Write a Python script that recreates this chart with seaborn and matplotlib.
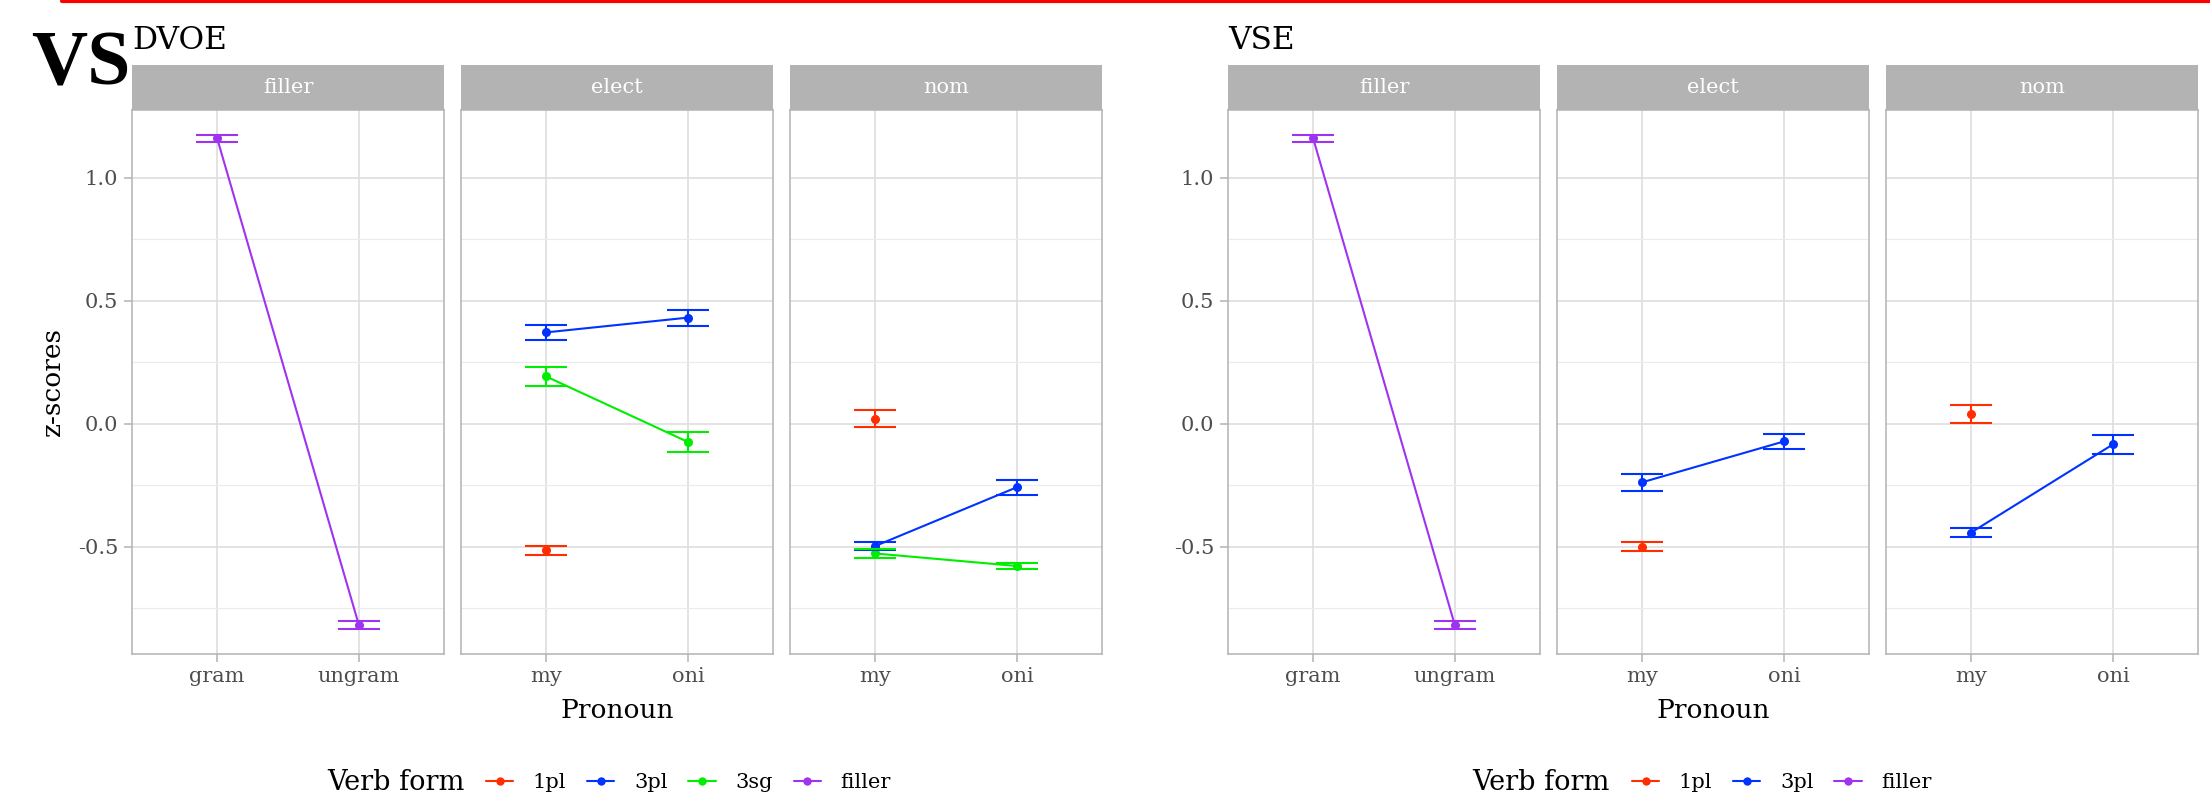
import numpy as np
import pandas as pd
import matplotlib
matplotlib.use('Agg')
import matplotlib.pyplot as plt
import seaborn as sns
from matplotlib.lines import Line2D
from matplotlib.patches import Rectangle

sns.set_theme(style='white')
plt.rcParams['font.family'] = ['DejaVu Serif']
plt.rcParams['text.color'] = 'black'

conditions = ['filler', 'elect', 'nom']
pronoun_levels = {'filler': ['gram', 'ungram'], 'elect': ['my', 'oni'], 'nom': ['my', 'oni']}
verb_forms = ['1pl', '3pl', '3sg', 'filler']
palette = {'1pl': '#FF2D00', '3pl': '#0033FF', '3sg': '#00EE00', 'filler': '#A033F0'}

# DVOE
dvoe_condition = ['filler', 'filler', 'elect', 'elect', 'elect', 'elect', 'elect', 'nom', 'nom', 'nom', 'nom', 'nom']
dvoe_pronoun = ['gram', 'ungram', 'my', 'my', 'oni', 'my', 'oni', 'my', 'my', 'oni', 'my', 'oni']
dvoe_verb = ['filler', 'filler', '1pl', '3pl', '3pl', '3sg', '3sg', '1pl', '3pl', '3pl', '3sg', '3sg']
dvoe_mean = [1.160, -0.818, -0.515, 0.371, 0.431, 0.192, -0.074, 0.021, -0.497, -0.258, -0.527, -0.578]
dvoe_se = [0.014, 0.015, 0.020, 0.029, 0.032, 0.038, 0.042, 0.034, 0.017, 0.030, 0.019, 0.014]

# VSE
vse_condition = ['filler', 'filler', 'elect', 'elect', 'elect', 'nom', 'nom', 'nom']
vse_pronoun = ['gram', 'ungram', 'my', 'my', 'oni', 'my', 'my', 'oni']
vse_verb = ['filler', 'filler', '1pl', '3pl', '3pl', '1pl', '3pl', '3pl']
vse_mean = [1.160, -0.819, -0.499, -0.238, -0.072, 0.041, -0.442, -0.084]
vse_se = [0.014, 0.016, 0.018, 0.034, 0.031, 0.037, 0.018, 0.040]

dvoe = pd.DataFrame({'cond': dvoe_condition, 'pronoun': dvoe_pronoun, 'verb': dvoe_verb,
                     'mean': dvoe_mean, 'se': dvoe_se})
vse = pd.DataFrame({'cond': vse_condition, 'pronoun': vse_pronoun, 'verb': vse_verb,
                    'mean': vse_mean, 'se': vse_se})

lo = min((dvoe['mean'] - dvoe['se']).min(), (vse['mean'] - vse['se']).min())
hi = max((dvoe['mean'] + dvoe['se']).max(), (vse['mean'] + vse['se']).max())
pad = (hi - lo) * 0.05
ylim = (lo - pad, hi + pad)

W, H = 2210, 802
fig = plt.figure(figsize=(W / 100, H / 100), dpi=100)
fig.patch.set_facecolor('white')

grid_col = '#DEDEDE'
border_col = '#B3B3B3'
tick_col = '#4D4D4D'
panel_top, panel_bot, panel_w, strip_h = 110, 654, 312, 45


def draw_group(df, lefts, name, show_ylab, legend_x, key_x, verbs):
    for i, cond in enumerate(conditions):
        ax = fig.add_axes([lefts[i] / W, 1 - panel_bot / H, panel_w / W, (panel_bot - panel_top) / H])
        sub = df[df['cond'] == cond].copy()
        sub['x'] = sub['pronoun'].map({p: k for k, p in enumerate(pronoun_levels[cond])})
        sns.lineplot(data=sub, x='x', y='mean', hue='verb', palette=palette, marker='o',
                     markersize=6.5, markeredgewidth=0, linewidth=1.5, estimator=None,
                     legend=False, ax=ax, zorder=3)
        cols = sub['verb'].map(palette)
        ax.vlines(sub['x'], sub['mean'] - sub['se'], sub['mean'] + sub['se'], colors=cols, lw=1.5, zorder=3)
        ax.hlines(sub['mean'] - sub['se'], sub['x'] - 0.15, sub['x'] + 0.15, colors=cols, lw=1.5, zorder=3)
        ax.hlines(sub['mean'] + sub['se'], sub['x'] - 0.15, sub['x'] + 0.15, colors=cols, lw=1.5, zorder=3)

        ax.set_xlim(-0.6, 1.6)
        ax.set_ylim(*ylim)
        ax.set_xticks([0, 1])
        ax.set_xticklabels(pronoun_levels[cond])
        ax.set_yticks([-0.5, 0.0, 0.5, 1.0])
        ax.set_yticks([-0.75, -0.25, 0.25, 0.75], minor=True)
        ax.set_xlabel('')
        ax.set_ylabel('')
        ax.grid(True, which='major', color=grid_col, lw=1.2, zorder=0)
        ax.grid(True, which='minor', axis='y', color='#EBEBEB', lw=0.8, zorder=0)
        ax.set_axisbelow(True)
        for s in ax.spines.values():
            s.set_color(border_col)
            s.set_linewidth(1.1)
        ax.tick_params(axis='x', which='major', length=6, width=1.1, color=border_col,
                       labelcolor=tick_col, labelsize=15, pad=3, bottom=True)
        ax.tick_params(axis='y', which='minor', length=0)
        if i == 0:
            ax.set_yticklabels(['-0.5', '0.0', '0.5', '1.0'])
            ax.tick_params(axis='y', which='major', length=6, width=1.1, color=border_col,
                           labelcolor=tick_col, labelsize=15, pad=4, left=True)
        else:
            ax.tick_params(axis='y', which='major', left=False, labelleft=False)

        ax.add_patch(Rectangle((0, 1), 1, strip_h / (panel_bot - panel_top), transform=ax.transAxes,
                               facecolor='#B3B3B3', edgecolor='none', clip_on=False))
        ax.text(0.5, 1 + strip_h / 2 / (panel_bot - panel_top), cond, transform=ax.transAxes,
                ha='center', va='center', color='white', fontsize=15)

    fig.text(lefts[0] / W, 1 - 49 / H, name, fontsize=22.5, ha='left', va='baseline', color='black')
    mid = (lefts[1] + panel_w / 2) / W
    fig.text(mid, 1 - 710 / H, 'Pronoun', fontsize=19, ha='center', va='center', color='black')
    if show_ylab:
        fig.text(52 / W, 1 - 382 / H, 'z-scores', fontsize=19, rotation=90, ha='center', va='center',
                 color='black')

    fig.text(legend_x / W, 1 - 783 / H, 'Verb form', fontsize=19.5, ha='left', va='center', color='black')
    handles = [Line2D([], [], color=palette[v], marker='o', markersize=6, markeredgewidth=0, lw=1.5)
               for v in verbs]
    leg = fig.legend(handles, verbs, loc='center left', bbox_to_anchor=(key_x / W, 1 - 783 / H),
                     ncol=len(verbs), frameon=False, fontsize=15, handlelength=1.3, handletextpad=0.95,
                     columnspacing=1.0, borderpad=0, borderaxespad=0)
    for t in leg.get_texts():
        t.set_color('black')


draw_group(dvoe, [132, 461, 790], 'DVOE', True, 327, 486, verb_forms)
draw_group(vse, [1228, 1557, 1886], 'VSE', False, 1472, 1632, ['1pl', '3pl', 'filler'])

fig.text(31 / W, 1 - 85 / H, 'VS', fontsize=56, fontweight='bold', family='Liberation Serif',
         ha='left', va='baseline', color='black')
fig.add_artist(Line2D([62 / W, 1.0], [1 - 1.2 / H, 1 - 1.2 / H], transform=fig.transFigure,
                      color='red', lw=3, solid_capstyle='round'))

fig.savefig('out.png', dpi=100, facecolor='white')
